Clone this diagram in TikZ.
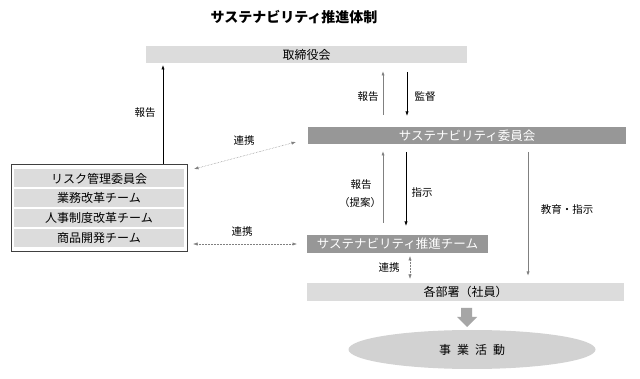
\documentclass[tikz,border=0pt]{standalone}
\usepackage{fontspec}
\setmainfont{Noto Sans CJK JP}
\usetikzlibrary{arrows.meta,shapes.geometric}
\definecolor{lightbar}{HTML}{DCDCDC}
\definecolor{darkbar}{HTML}{979797}
\definecolor{ellfill}{HTML}{D2D2D2}
\definecolor{garrow}{HTML}{808080}
\definecolor{blockarrow}{HTML}{A6A6A6}
\begin{document}
\begin{tikzpicture}[x=1pt,y=-1pt,
  lbar/.style={fill=lightbar,draw=none,inner sep=0pt,font=\fontsize{12}{12}\selectfont},
  dbar/.style={fill=darkbar,draw=none,inner sep=0pt,text=white,font=\fontsize{12.5}{12.5}\selectfont},
  rowbox/.style={fill=lightbar,draw=none,inner sep=0pt,minimum width=170pt,minimum height=18pt,font=\fontsize{12}{12}\selectfont},
  lbl/.style={inner sep=0pt,font=\fontsize{10.5}{12}\selectfont},
  tip/.style={-{Latex[length=4.5pt,width=3.2pt]}},
  dtip/.style={{Latex[length=4.5pt,width=3.2pt]}-{Latex[length=4.5pt,width=3.2pt]}},
  blackarr/.style={tip,draw=black,line width=0.7pt},
  grayarr/.style={tip,draw=garrow,line width=1pt},
  dotarr/.style={dtip,draw=gray,line width=0.5pt,densely dotted}
]
\useasboundingbox (0,0) rectangle (640,379);
\fill[white] (0,0) rectangle (640,379);

% title
\node[inner sep=0pt,font=\fontsize{14}{14}\selectfont\bfseries] (title) at (294,17) {サステナビリティ推進体制};

% main bars
\node[lbar,minimum width=321pt,minimum height=17pt] (board) at (306.5,54.5) {取締役会};
\node[dbar,minimum width=318pt,minimum height=17pt] (comm) at (467,135.5) {サステナビリティ委員会};
\node[dbar,minimum width=181pt,minimum height=18pt] (team) at (397.5,244) {サステナビリティ推進チーム};
\node[lbar,minimum width=317pt,minimum height=18pt] (dept) at (465.5,292) {各部署（社員）};

% left group
\node[draw=darkgray,line width=0.8pt,fill=white,inner sep=0pt,minimum width=176pt,minimum height=87pt] (grp) at (99,207.5) {};
\node[rowbox] (r1) at (99,178.5) {リスク管理委員会};
\node[rowbox] (r2) at (99,198) {業務改革チーム};
\node[rowbox] (r3) at (99,218) {人事制度改革チーム};
\node[rowbox] (r4) at (99,238) {商品開発チーム};

% ellipse
\node[ellipse,fill=ellfill,draw=none,minimum width=247pt,minimum height=39pt,inner sep=0pt,font=\fontsize{12}{12}\selectfont] (biz) at (472,349.5) {事\hspace{0.5em}業\hspace{0.5em}活\hspace{0.5em}動};

% block arrow dept -> biz
\fill[blockarrow] (461,308) -- (472,308) -- (472,317) -- (477,317) -- (467,327) -- (457,317) -- (461,317) -- cycle;

% coordinates
\coordinate (a1s) at (163,164);
\coordinate (a1e) at (163,65);
\coordinate (a2s) at (383,115);
\coordinate (a2e) at (383,71);
\coordinate (a3s) at (407,72);
\coordinate (a3e) at (407,116);
\coordinate (a4s) at (383,223);
\coordinate (a4e) at (383,151);
\coordinate (a5s) at (406,152);
\coordinate (a5e) at (406,226);
\coordinate (a6s) at (528,152);
\coordinate (a6e) at (528,276);
\coordinate (d1s) at (194,169);
\coordinate (d1e) at (296,142);
\coordinate (d2s) at (193,244);
\coordinate (d2e) at (297,244);
\coordinate (d3s) at (410,256);
\coordinate (d3e) at (410,279);

\draw[blackarr] (a1s) -- (a1e);
\draw[grayarr] (a2s) -- (a2e);
\draw[blackarr] (a3s) -- (a3e);
\draw[grayarr] (a4s) -- (a4e);
\draw[blackarr] (a5s) -- (a5e);
\draw[grayarr] (a6s) -- (a6e);
\draw[dotarr] (d1s) -- (d1e);
\draw[dotarr] (d2s) -- (d2e);
\draw[dotarr] (d3s) -- (d3e);

% labels
\node[lbl] (l1) at (145,113) {報告};
\node[lbl] (l2) at (368,97) {報告};
\node[lbl] (l3) at (425,97) {監督};
\node[lbl] (l4) at (244,141) {連携};
\node[lbl] (l5) at (361,185) {報告};
\node[lbl] (l6) at (360,203) {（提案）};
\node[lbl] (l7) at (422,193) {指示};
\node[lbl] (l8) at (567,210) {教育・指示};
\node[lbl] (l9) at (242,232) {連携};
\node[lbl] (l10) at (389,268) {連携};
\end{tikzpicture}
\end{document}
